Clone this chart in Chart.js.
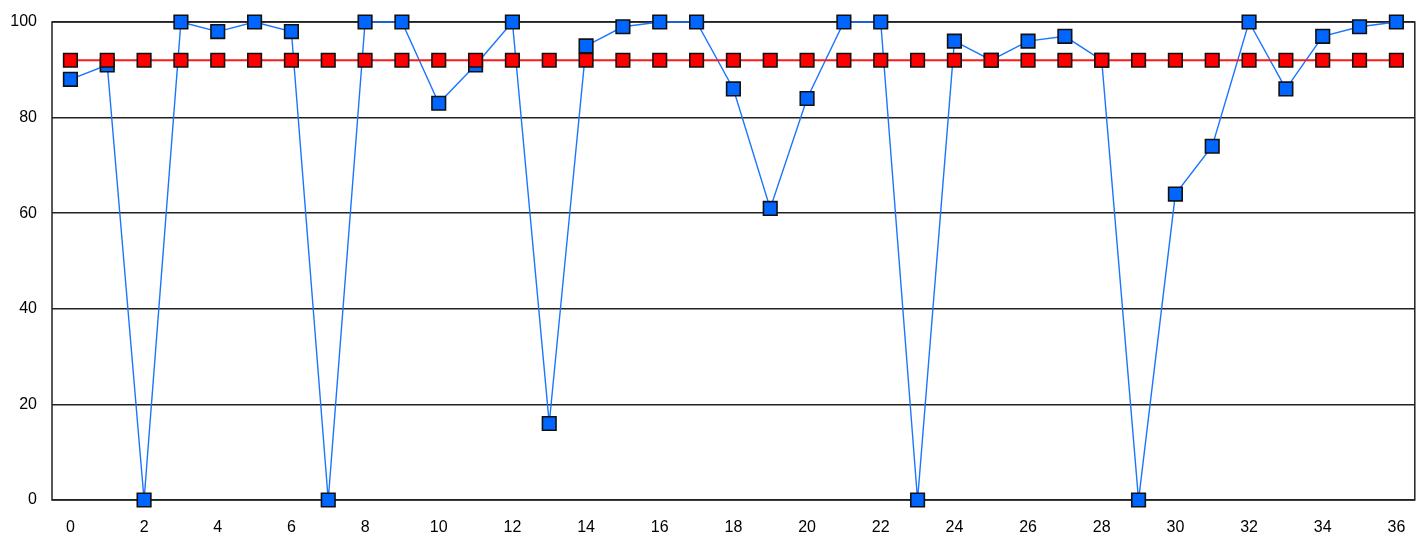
<!DOCTYPE html>
<html>
<head>
<meta charset="utf-8">
<script src="https://cdn.jsdelivr.net/npm/chart.js@4"></script>
<style>
    html, body { margin: 0; padding: 0; background: #fff; }
    #wrap { width: 1426px; height: 536px; }
</style>
</head>
<body>
<div id="wrap"><canvas id="chart" width="1426" height="536"></canvas></div>
<script>
// categories on the x axis
const xLabels = ['0', '1', '2', '3', '4', '5', '6', '7', '8', '9', '10', '11', '12', '13', '14', '15', '16', '17', '18',
    '19', '20', '21', '22', '23', '24', '25', '26', '27', '28', '29', '30', '31', '32', '33', '34', '35', '36'];

// blue series
const blueValues = [88, 91, 0, 100, 98, 100, 98, 0, 100, 100, 83, 91, 100, 16, 95, 99, 100, 100, 86, 61, 84,
    100, 100, 0, 96, 92, 96, 97, 92, 0, 64, 74, 100, 86, 97, 99, 100];

// red series (flat line)
const redValues = [92, 92, 92, 92, 92, 92, 92, 92, 92, 92, 92, 92, 92, 92, 92, 92, 92, 92, 92, 92, 92,
    92, 92, 92, 92, 92, 92, 92, 92, 92, 92, 92, 92, 92, 92, 92, 92];

// y tick values
const yTicks = [0, 20, 40, 60, 80, 100];

//draws the dark frame round the plot area
const framePlugin = {
    id: 'frame',
    beforeDatasetsDraw(chart) {
        const { ctx, chartArea } = chart;
        ctx.save();
        ctx.strokeStyle = '#222';
        ctx.lineWidth = 1.5;
        ctx.strokeRect(chartArea.left, chartArea.top, chartArea.right - chartArea.left, chartArea.bottom - chartArea.top);
        ctx.restore();
    }
};

const ctx = document.getElementById('chart');

new Chart(ctx, {
    type: 'line',
    data: {
        labels: xLabels,
        datasets: [{
            label: 'red',
            data: redValues,
            borderColor: '#ff1a1a',
            borderWidth: 1.8,
            backgroundColor: '#ff0000',
            pointStyle: 'rect',
            pointRadius: 9.6,
            pointBorderColor: '#111',
            pointBorderWidth: 1.6,
            pointBackgroundColor: '#ff0000',
            tension: 0,
            clip: false,
            order: 0
        },
        {
            label: 'blue',
            data: blueValues,
            borderColor: '#1a75ff',
            borderWidth: 1.4,
            backgroundColor: '#0066ff',
            pointStyle: 'rect',
            pointRadius: 9.6,
            pointBorderColor: '#111',
            pointBorderWidth: 1.6,
            pointBackgroundColor: '#0066ff',
            tension: 0,
            clip: false,
            order: 1
        }]
    },
    options: {
        responsive: false,
        animation: false,
        layout: {
            padding: { top: 22, right: 10, left: 0, bottom: 0 }
        },
        plugins: {
            legend: { display: false },
            tooltip: { enabled: false }
        },
        scales: {
            x: {
                offset: true,
                grid: { display: false, drawTicks: false },
                border: { display: false },
                ticks: {
                    autoSkip: false,
                    maxRotation: 0,
                    padding: 18,
                    color: '#000',
                    font: { family: 'Liberation Sans', size: 16 },
                    callback: function (value, index) {
                        return index % 2 === 0 ? xLabels[index] : '';
                    }
                },
                afterFit: function (scale) {
                    scale.height = 36;
                    scale.paddingLeft = 0;
                    scale.paddingRight = 0;
                }
            },
            y: {
                min: yTicks[0],
                max: yTicks[yTicks.length - 1],
                afterBuildTicks: function (scale) {
                    scale.ticks = yTicks.map(v => ({ value: v }));
                },
                grid: { color: '#222', lineWidth: 1.5, drawTicks: false },
                border: { display: false },
                ticks: {
                    padding: 15,
                    color: '#000',
                    font: { family: 'Liberation Sans', size: 16 }
                },
                afterFit: function (scale) {
                    scale.width = 52;
                    scale.paddingTop = 0;
                    scale.paddingBottom = 0;
                }
            }
        }
    },
    plugins: [framePlugin]
});
</script>
</body>
</html>
